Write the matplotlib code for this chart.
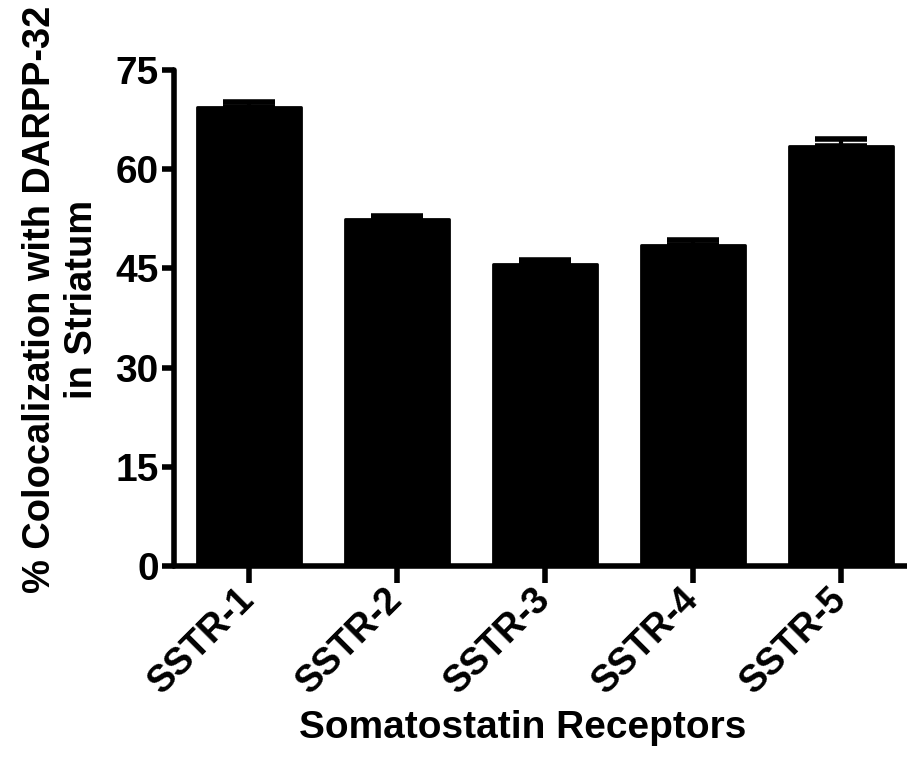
import matplotlib
matplotlib.use('Agg')
import matplotlib.pyplot as plt

receptors = ['SSTR-1', 'SSTR-2', 'SSTR-3', 'SSTR-4', 'SSTR-5']
coloc = [69.4, 52.4, 45.6, 48.6, 63.5]
sem = [0.8, 0.5, 0.6, 0.7, 1.0]
yticks = [0, 15, 30, 45, 60, 75]

plt.rcParams['font.family'] = ['Liberation Sans', 'DejaVu Sans']
plt.rcParams['font.weight'] = 'bold'

fig = plt.figure(figsize=(9.07, 7.70), dpi=100)
ax = fig.add_axes([0.192, 0.265, 0.808, 0.644])

x = range(len(receptors))
ax.bar(x, coloc, width=0.7, color='black', edgecolor='black', linewidth=2,
       joinstyle='round', zorder=2)
ax.errorbar(x, coloc, yerr=[[0] * len(sem), sem], fmt='none', ecolor='black',
            elinewidth=3, capsize=19, capthick=4, zorder=1)

ax.set_xlim(-0.507, 4.446)
ax.set_ylim(0, 75)
ax.set_yticks(yticks)
ax.set_xticks(list(x))
ax.set_xticklabels(receptors, rotation=45, ha='right', va='center',
                   rotation_mode='anchor', fontsize=27, fontweight='bold')
ax.set_yticklabels([str(t) for t in yticks], fontsize=28, fontweight='bold')

for s in ['top', 'right']:
    ax.spines[s].set_visible(False)
for s in ['left', 'bottom']:
    ax.spines[s].set_linewidth(4)
    ax.spines[s].set_capstyle('round')
ax.tick_params(axis='y', length=9, width=4, pad=2)
ax.tick_params(axis='x', length=12, width=4, pad=8)

ax.set_xlabel('Somatostatin Receptors', fontsize=28, fontweight='bold')
ax.xaxis.set_label_coords(0.475, -0.326)
ax.xaxis.label.set_va('center')
ax.set_ylabel('% Colocalization with DARPP-32\nin Striatum', fontsize=27.4,
              fontweight='bold', linespacing=1.2)
ax.yaxis.set_label_coords(-0.154, 0.538)
ax.yaxis.label.set_va('center')

fig.savefig('out.png', dpi=100)
